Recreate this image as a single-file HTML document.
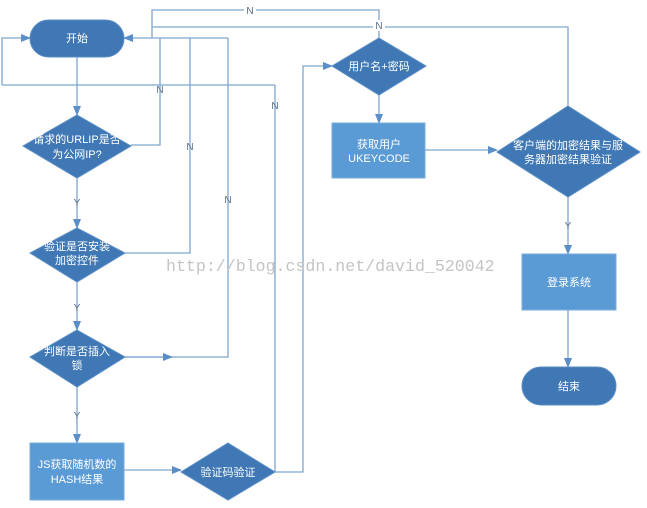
<!DOCTYPE html>
<html><head><meta charset="utf-8"><style>
html,body{margin:0;padding:0;background:#fff;width:647px;height:508px;overflow:hidden}
svg text{font-family:"Liberation Sans","Noto Sans CJK SC",sans-serif;font-size:11px;fill:#fff}
.l{fill:none;stroke:#7ea6d0;stroke-width:1.3}
.lab{fill:#5a6f8a;font-size:10px}
.d{fill:#3f78b4;stroke:#5b8ec6}
.r{fill:#5b9bd5;stroke:#79addf}
</style></head><body>
<svg width="647" height="508" viewBox="0 0 647 508" xmlns="http://www.w3.org/2000/svg">
<defs><marker id="a" markerWidth="10" markerHeight="10" refX="9" refY="5" orient="auto" markerUnits="userSpaceOnUse"><path d="M0,1 L10,5 L0,9z" fill="#5b8ec6"/></marker></defs>
<!-- lines -->
<path class="l" d="M77,57 V115" marker-end="url(#a)"/>
<path class="l" d="M77,178 V228" marker-end="url(#a)"/>
<path class="l" d="M77,282 V330" marker-end="url(#a)"/>
<path class="l" d="M77,387 V443" marker-end="url(#a)"/>
<path class="l" d="M124,470 H181" marker-end="url(#a)"/>
<path class="l" d="M275,85 V472 M2,85 H275 M2,85 V38 H30" marker-end="url(#a)"/>
<path class="l" d="M228,38 H124" marker-end="url(#a)"/>
<path class="l" d="M131,145 H160 V38 M125,253 H190 V38 M125,357 H228 V38"/>
<path class="l" d="M125,357 H172" marker-end="url(#a)"/>
<path class="l" d="M152,38 V10 H379 V38 M152,27 H568 V107"/>
<path class="l" d="M275,472 H303 V66 H332" marker-end="url(#a)"/>
<path class="l" d="M379,95 V123" marker-end="url(#a)"/>
<path class="l" d="M425,150 H497" marker-end="url(#a)"/>
<path class="l" d="M568,197 V254" marker-end="url(#a)"/>
<path class="l" d="M568,310 V367" marker-end="url(#a)"/>
<!-- labels -->
<g class="lab" text-anchor="middle">
<rect x="244" y="4" width="12" height="11" fill="#fff"/><text class="lab" x="250" y="14">N</text>
<rect x="373" y="20" width="12" height="11" fill="#fff"/><text class="lab" x="379" y="29">N</text>
<text class="lab" x="160" y="93">N</text>
<text class="lab" x="275" y="109">N</text>
<text class="lab" x="190" y="150">N</text>
<text class="lab" x="228" y="203">N</text>
<text class="lab" x="77" y="206">Y</text>
<text class="lab" x="77" y="311">Y</text>
<text class="lab" x="77" y="419">Y</text>
<text class="lab" x="568" y="229">Y</text>
</g>
<!-- shapes -->
<rect x="30" y="20" width="94" height="37" rx="18.5" class="d"/>
<text x="77" y="42" text-anchor="middle">开始</text>
<path class="d" d="M77,115 L131,146 L77,178 L23,146z"/>
<text x="77" y="143" text-anchor="middle">请求的URLIP是否</text>
<text x="77" y="158" text-anchor="middle">为公网IP?</text>
<path class="d" d="M77,228 L125,253 L77,282 L30,253z"/>
<text x="77" y="250" text-anchor="middle">验证是否安装</text>
<text x="77" y="264" text-anchor="middle">加密控件</text>
<path class="d" d="M77,330 L125,357 L77,387 L30,357z"/>
<text x="77" y="355" text-anchor="middle">判断是否插入</text>
<text x="77" y="369" text-anchor="middle">锁</text>
<rect x="30" y="443" width="94" height="57" class="r"/>
<text x="77" y="468" text-anchor="middle">JS获取随机数的</text>
<text x="77" y="483" text-anchor="middle">HASH结果</text>
<path class="d" d="M228,443 L275,472 L228,500 L181,472z"/>
<text x="228" y="476" text-anchor="middle">验证码验证</text>
<path class="d" d="M379,38 L426,66 L379,95 L332,66z"/>
<text x="379" y="70" text-anchor="middle">用户名+密码</text>
<rect x="332" y="123" width="93" height="55" class="r"/>
<text x="379" y="148" text-anchor="middle">获取用户</text>
<text x="379" y="162" text-anchor="middle">UKEYCODE</text>
<path class="d" d="M568,106 L640,152 L568,197 L497,152z"/>
<text x="568" y="149" text-anchor="middle">客户端的加密结果与服</text>
<text x="568" y="163" text-anchor="middle">务器加密结果验证</text>
<rect x="522" y="254" width="94" height="56" class="r"/>
<text x="569" y="286" text-anchor="middle">登录系统</text>
<rect x="522" y="367" width="94" height="38" rx="19" class="d"/>
<text x="569" y="390" text-anchor="middle">结束</text>
<text x="166" y="271" style="font-family:'Liberation Mono',monospace;font-size:16.6px;fill:#c4c4c4">http://blog.csdn.net/david_520042</text>
</svg>
</body></html>
